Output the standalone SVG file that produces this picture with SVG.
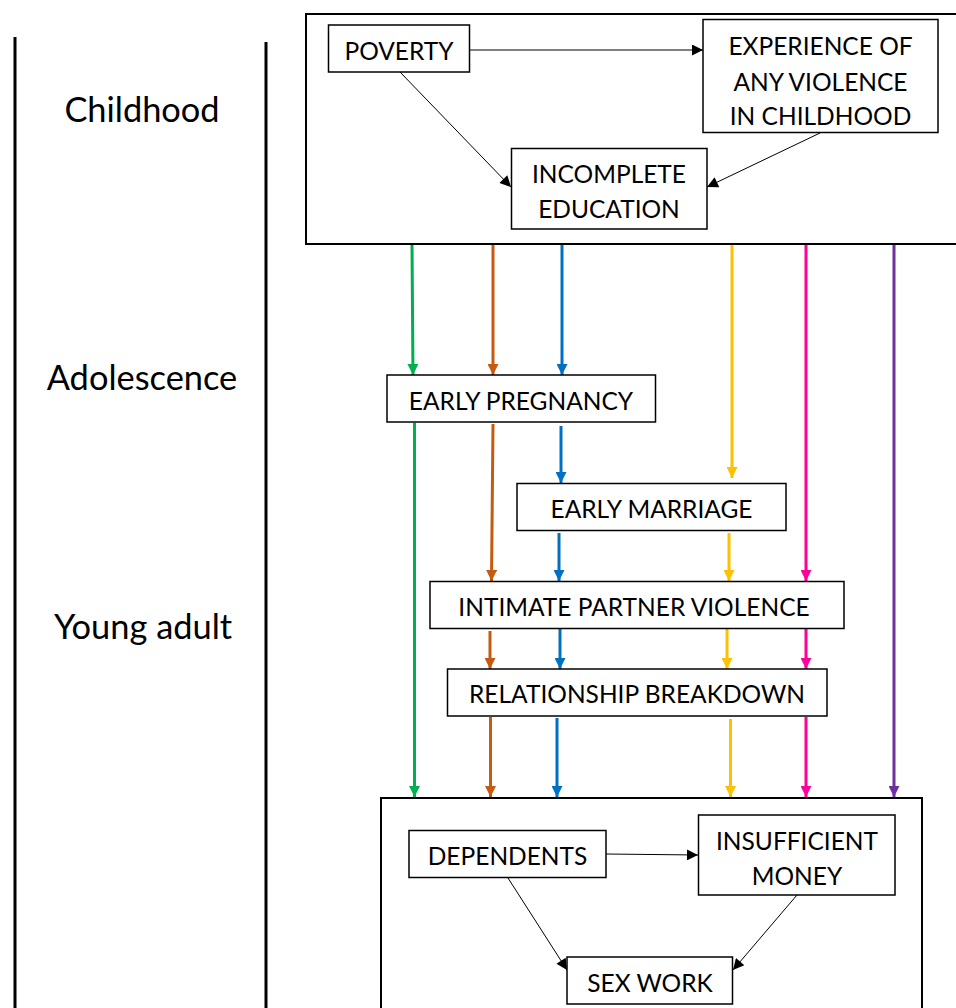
<svg xmlns="http://www.w3.org/2000/svg" width="956" height="1008" viewBox="0 0 956 1008">
<defs>
<style>
.lbl{font-family:Lato,"Open Sans","Liberation Sans",sans-serif;font-size:24.5px;fill:#000;text-anchor:middle}
.stage{font-family:Lato,"Open Sans","Liberation Sans",sans-serif;font-size:34.4px;fill:#000;text-anchor:middle}
.box{fill:#fff;stroke:#000;stroke-width:1.5}
.frame{fill:none;stroke:#000;stroke-width:2}
.axis{stroke:#000;stroke-width:3}
.blk{stroke:#000;stroke-width:1;fill:none;marker-end:url(#ab)}
.c{stroke-width:3;fill:none}
</style>
<marker id="ab" viewBox="0 0 10 10" refX="10" refY="5" markerWidth="13" markerHeight="11" markerUnits="userSpaceOnUse" orient="auto"><path d="M0,0L10,5L0,10z" fill="#000"/></marker>
<marker id="mg" viewBox="0 0 10 10" refX="10" refY="5" markerWidth="11" markerHeight="11" markerUnits="userSpaceOnUse" orient="auto"><path d="M0,0L10,5L0,10z" fill="#00B050"/></marker>
<marker id="mbr" viewBox="0 0 10 10" refX="10" refY="5" markerWidth="11" markerHeight="11" markerUnits="userSpaceOnUse" orient="auto"><path d="M0,0L10,5L0,10z" fill="#C55A11"/></marker>
<marker id="mbl" viewBox="0 0 10 10" refX="10" refY="5" markerWidth="11" markerHeight="11" markerUnits="userSpaceOnUse" orient="auto"><path d="M0,0L10,5L0,10z" fill="#0070C0"/></marker>
<marker id="my" viewBox="0 0 10 10" refX="10" refY="5" markerWidth="11" markerHeight="11" markerUnits="userSpaceOnUse" orient="auto"><path d="M0,0L10,5L0,10z" fill="#FFC000"/></marker>
<marker id="mm" viewBox="0 0 10 10" refX="10" refY="5" markerWidth="11" markerHeight="11" markerUnits="userSpaceOnUse" orient="auto"><path d="M0,0L10,5L0,10z" fill="#FF0099"/></marker>
<marker id="mp" viewBox="0 0 10 10" refX="10" refY="5" markerWidth="11" markerHeight="11" markerUnits="userSpaceOnUse" orient="auto"><path d="M0,0L10,5L0,10z" fill="#7030A0"/></marker>
</defs>
<rect width="956" height="1008" fill="#fff"/>

<g id="timeline">
<line class="axis" x1="15" y1="37" x2="15" y2="1008"/>
<line class="axis" x1="266" y1="42" x2="266" y2="1008"/>
<text class="stage" x="142" y="122">Childhood</text>
<text class="stage" x="142" y="390">Adolescence</text>
<text class="stage" x="143" y="639">Young adult</text>
</g>

<g id="childhood-frame"><rect class="frame" x="306" y="14" width="660" height="230"/></g>
<g id="young-adult-frame"><rect class="frame" x="381" y="798" width="541" height="220"/></g>

<g id="connectors">
<line class="blk" x1="469" y1="50" x2="703" y2="50"/>
<line class="blk" x1="400" y1="72" x2="511" y2="187"/>
<line class="blk" x1="820" y1="133" x2="707" y2="187"/>
<line class="blk" x1="606" y1="854" x2="698" y2="855"/>
<line class="blk" x1="508" y1="878" x2="567" y2="970"/>
<line class="blk" x1="797" y1="895" x2="733" y2="970"/>

<g stroke="#00B050" class="c" marker-end="url(#mg)">
<line x1="412" y1="245" x2="413" y2="375"/>
<line x1="414.5" y1="423" x2="414.5" y2="797"/>
</g>
<g stroke="#C55A11" class="c" marker-end="url(#mbr)">
<line x1="493" y1="245" x2="493" y2="375"/>
<line x1="493" y1="424" x2="491.5" y2="581"/>
<line x1="490" y1="631" x2="490" y2="669"/>
<line x1="490.5" y1="717" x2="490.5" y2="797"/>
</g>
<g stroke="#0070C0" class="c" marker-end="url(#mbl)">
<line x1="562" y1="245" x2="562" y2="375"/>
<line x1="561" y1="426" x2="561" y2="483"/>
<line x1="559" y1="533" x2="559" y2="581"/>
<line x1="560" y1="629" x2="560" y2="669"/>
<line x1="557" y1="718" x2="557" y2="797"/>
</g>
<g stroke="#FFC000" class="c" marker-end="url(#my)">
<line x1="732" y1="245" x2="732" y2="478"/>
<line x1="729" y1="533" x2="729" y2="581"/>
<line x1="727" y1="629" x2="727" y2="669"/>
<line x1="730.5" y1="719" x2="730.5" y2="797"/>
</g>
<g stroke="#FF0099" class="c" marker-end="url(#mm)">
<line x1="806" y1="245" x2="806" y2="581"/>
<line x1="806" y1="629" x2="806" y2="669"/>
<line x1="806" y1="717" x2="806" y2="797"/>
</g>
<g stroke="#7030A0" class="c" marker-end="url(#mp)">
<line x1="894" y1="245" x2="894" y2="797"/>
</g>
</g>

<g id="poverty"><rect class="box" x="328.5" y="25" width="141" height="47"/><text class="lbl" x="399" y="60">POVERTY</text></g>
<g id="violence-childhood"><rect class="box" x="703" y="19.5" width="235" height="113"/>
<text class="lbl" x="820.5" y="55">EXPERIENCE OF</text>
<text class="lbl" x="820.5" y="91">ANY VIOLENCE</text>
<text class="lbl" x="820.5" y="125">IN CHILDHOOD</text></g>
<g id="incomplete-education"><rect class="box" x="511.5" y="148.5" width="195.5" height="80.5"/>
<text class="lbl" x="609" y="183">INCOMPLETE</text>
<text class="lbl" x="609" y="218">EDUCATION</text></g>
<g id="early-pregnancy"><rect class="box" x="387" y="375" width="268.5" height="47"/><text class="lbl" x="521" y="410">EARLY PREGNANCY</text></g>
<g id="early-marriage"><rect class="box" x="517" y="483.5" width="269" height="47"/><text class="lbl" x="651.5" y="518">EARLY MARRIAGE</text></g>
<g id="ipv"><rect class="box" x="430" y="581.5" width="414" height="47"/><text class="lbl" x="634" y="616">INTIMATE PARTNER VIOLENCE</text></g>
<g id="relationship-breakdown"><rect class="box" x="447.5" y="669" width="379.5" height="47"/><text class="lbl" x="637" y="703">RELATIONSHIP BREAKDOWN</text></g>
<g id="dependents"><rect class="box" x="409" y="830.5" width="197" height="47"/><text class="lbl" x="507.5" y="865">DEPENDENTS</text></g>
<g id="insufficient-money"><rect class="box" x="698.5" y="815" width="196.5" height="80"/>
<text class="lbl" x="797" y="850">INSUFFICIENT</text>
<text class="lbl" x="797" y="885">MONEY</text></g>
<g id="sex-work"><rect class="box" x="567" y="957" width="165.5" height="47"/><text class="lbl" x="650" y="992">SEX WORK</text></g>
</svg>
